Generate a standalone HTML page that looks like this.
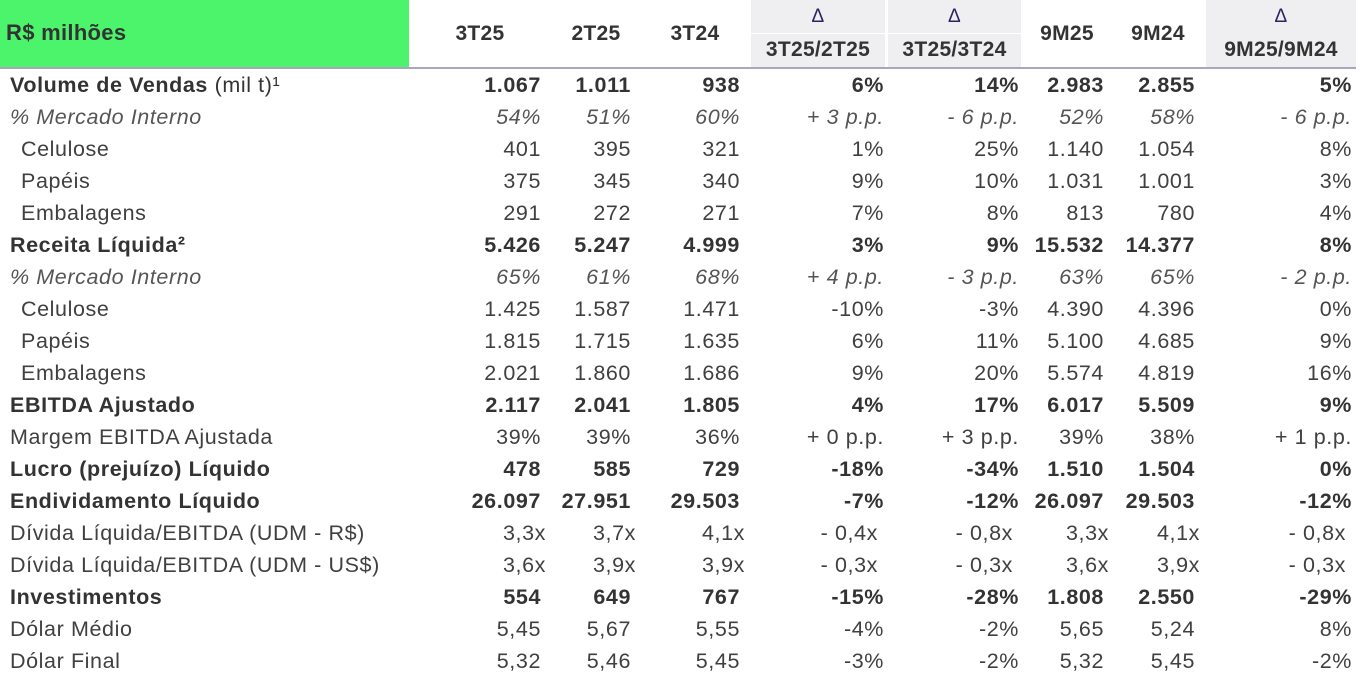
<!DOCTYPE html>
<html><head><meta charset="utf-8">
<style>
body{margin:0;width:1366px;height:675px;background:#fff;font-family:"Liberation Sans",Arial,sans-serif;color:#404040;position:relative;overflow:hidden}
.h{position:absolute;font-weight:bold;font-size:21px;color:#333;text-align:center;letter-spacing:0.3px}
.g{position:absolute;background:#efeff1;top:0;height:67px}
.row{position:absolute;left:0;height:32px;line-height:32px;font-size:21.5px;display:flex;width:1366px;letter-spacing:0.6px}
.row div{text-align:right;flex:none}
.row .l{text-align:left;width:420px;padding-left:10px;box-sizing:border-box;white-space:nowrap}
.row .s{padding-left:21px}
.c1{width:121px}.c2{width:90px}.c3{width:109px}.c4{width:144px}.c5{width:135px}.c6{width:85px}.c7{width:91px}.c8{width:157px}
.b{font-weight:bold;color:#333}
.i{font-style:italic;color:#555}
.x .c1,.x .c2,.x .c3,.x .c6,.x .c7{position:relative;left:5px}
.x .c4,.x .c5,.x .c8{position:relative;left:-6px}
</style></head><body>
<div style="position:absolute;left:0;top:0;width:409px;height:67px;background:#4cf46c"></div>
<div class="g" style="left:751px;width:134px"></div>
<div class="g" style="left:888px;width:133px"></div>
<div class="g" style="left:1206px;width:150px"></div>
<div style="position:absolute;left:751px;top:33px;width:270px;height:1px;background:#fff"></div>
<div style="position:absolute;left:0;top:67px;width:1356px;height:2px;background:#a9a6c0"></div>
<div class="h" style="left:6px;top:20px;text-align:left;font-size:22px">R$ milhões</div>
<div class="h" style="left:430px;top:22px;width:100px">3T25</div>
<div class="h" style="left:546px;top:22px;width:100px">2T25</div>
<div class="h" style="left:645px;top:22px;width:100px">3T24</div>
<div class="h" style="left:751px;top:6px;width:134px;color:#2a2560;font-weight:normal;font-size:19px">Δ</div>
<div class="h" style="left:888px;top:6px;width:133px;color:#2a2560;font-weight:normal;font-size:19px">Δ</div>
<div class="h" style="left:1206px;top:6px;width:150px;color:#2a2560;font-weight:normal;font-size:19px">Δ</div>
<div class="h" style="left:751px;top:38px;width:134px">3T25/2T25</div>
<div class="h" style="left:888px;top:38px;width:133px">3T25/3T24</div>
<div class="h" style="left:1017px;top:22px;width:100px">9M25</div>
<div class="h" style="left:1108px;top:22px;width:100px">9M24</div>
<div class="h" style="left:1206px;top:38px;width:150px">9M25/9M24</div>

<div class="row b" style="top:69px"><div class="l">Volume de Vendas <span style="font-weight:normal">(mil t)¹</span></div><div class="c1">1.067</div><div class="c2">1.011</div><div class="c3">938</div><div class="c4">6%</div><div class="c5">14%</div><div class="c6">2.983</div><div class="c7">2.855</div><div class="c8">5%</div></div>
<div class="row i" style="top:101px"><div class="l">% Mercado Interno</div><div class="c1">54%</div><div class="c2">51%</div><div class="c3">60%</div><div class="c4">+ 3 p.p.</div><div class="c5">- 6 p.p.</div><div class="c6">52%</div><div class="c7">58%</div><div class="c8">- 6 p.p.</div></div>
<div class="row" style="top:133px"><div class="l s">Celulose</div><div class="c1">401</div><div class="c2">395</div><div class="c3">321</div><div class="c4">1%</div><div class="c5">25%</div><div class="c6">1.140</div><div class="c7">1.054</div><div class="c8">8%</div></div>
<div class="row" style="top:165px"><div class="l s">Papéis</div><div class="c1">375</div><div class="c2">345</div><div class="c3">340</div><div class="c4">9%</div><div class="c5">10%</div><div class="c6">1.031</div><div class="c7">1.001</div><div class="c8">3%</div></div>
<div class="row" style="top:197px"><div class="l s">Embalagens</div><div class="c1">291</div><div class="c2">272</div><div class="c3">271</div><div class="c4">7%</div><div class="c5">8%</div><div class="c6">813</div><div class="c7">780</div><div class="c8">4%</div></div>
<div class="row b" style="top:229px"><div class="l">Receita Líquida²</div><div class="c1">5.426</div><div class="c2">5.247</div><div class="c3">4.999</div><div class="c4">3%</div><div class="c5">9%</div><div class="c6">15.532</div><div class="c7">14.377</div><div class="c8">8%</div></div>
<div class="row i" style="top:261px"><div class="l">% Mercado Interno</div><div class="c1">65%</div><div class="c2">61%</div><div class="c3">68%</div><div class="c4">+ 4 p.p.</div><div class="c5">- 3 p.p.</div><div class="c6">63%</div><div class="c7">65%</div><div class="c8">- 2 p.p.</div></div>
<div class="row" style="top:293px"><div class="l s">Celulose</div><div class="c1">1.425</div><div class="c2">1.587</div><div class="c3">1.471</div><div class="c4">-10%</div><div class="c5">-3%</div><div class="c6">4.390</div><div class="c7">4.396</div><div class="c8">0%</div></div>
<div class="row" style="top:325px"><div class="l s">Papéis</div><div class="c1">1.815</div><div class="c2">1.715</div><div class="c3">1.635</div><div class="c4">6%</div><div class="c5">11%</div><div class="c6">5.100</div><div class="c7">4.685</div><div class="c8">9%</div></div>
<div class="row" style="top:357px"><div class="l s">Embalagens</div><div class="c1">2.021</div><div class="c2">1.860</div><div class="c3">1.686</div><div class="c4">9%</div><div class="c5">20%</div><div class="c6">5.574</div><div class="c7">4.819</div><div class="c8">16%</div></div>
<div class="row b" style="top:389px"><div class="l">EBITDA Ajustado</div><div class="c1">2.117</div><div class="c2">2.041</div><div class="c3">1.805</div><div class="c4">4%</div><div class="c5">17%</div><div class="c6">6.017</div><div class="c7">5.509</div><div class="c8">9%</div></div>
<div class="row" style="top:421px"><div class="l">Margem EBITDA Ajustada</div><div class="c1">39%</div><div class="c2">39%</div><div class="c3">36%</div><div class="c4">+ 0 p.p.</div><div class="c5">+ 3 p.p.</div><div class="c6">39%</div><div class="c7">38%</div><div class="c8">+ 1 p.p.</div></div>
<div class="row b" style="top:453px"><div class="l">Lucro (prejuízo) Líquido</div><div class="c1">478</div><div class="c2">585</div><div class="c3">729</div><div class="c4">-18%</div><div class="c5">-34%</div><div class="c6">1.510</div><div class="c7">1.504</div><div class="c8">0%</div></div>
<div class="row b" style="top:485px"><div class="l">Endividamento Líquido</div><div class="c1">26.097</div><div class="c2">27.951</div><div class="c3">29.503</div><div class="c4">-7%</div><div class="c5">-12%</div><div class="c6">26.097</div><div class="c7">29.503</div><div class="c8">-12%</div></div>
<div class="row x" style="top:517px"><div class="l">Dívida Líquida/EBITDA (UDM - R$)</div><div class="c1">3,3x</div><div class="c2">3,7x</div><div class="c3">4,1x</div><div class="c4">- 0,4x</div><div class="c5">- 0,8x</div><div class="c6">3,3x</div><div class="c7">4,1x</div><div class="c8">- 0,8x</div></div>
<div class="row x" style="top:549px"><div class="l">Dívida Líquida/EBITDA (UDM - US$)</div><div class="c1">3,6x</div><div class="c2">3,9x</div><div class="c3">3,9x</div><div class="c4">- 0,3x</div><div class="c5">- 0,3x</div><div class="c6">3,6x</div><div class="c7">3,9x</div><div class="c8">- 0,3x</div></div>
<div class="row b" style="top:581px"><div class="l">Investimentos</div><div class="c1">554</div><div class="c2">649</div><div class="c3">767</div><div class="c4">-15%</div><div class="c5">-28%</div><div class="c6">1.808</div><div class="c7">2.550</div><div class="c8">-29%</div></div>
<div class="row" style="top:613px"><div class="l">Dólar Médio</div><div class="c1">5,45</div><div class="c2">5,67</div><div class="c3">5,55</div><div class="c4">-4%</div><div class="c5">-2%</div><div class="c6">5,65</div><div class="c7">5,24</div><div class="c8">8%</div></div>
<div class="row" style="top:645px"><div class="l">Dólar Final</div><div class="c1">5,32</div><div class="c2">5,46</div><div class="c3">5,45</div><div class="c4">-3%</div><div class="c5">-2%</div><div class="c6">5,32</div><div class="c7">5,45</div><div class="c8">-2%</div></div>
</body></html>
